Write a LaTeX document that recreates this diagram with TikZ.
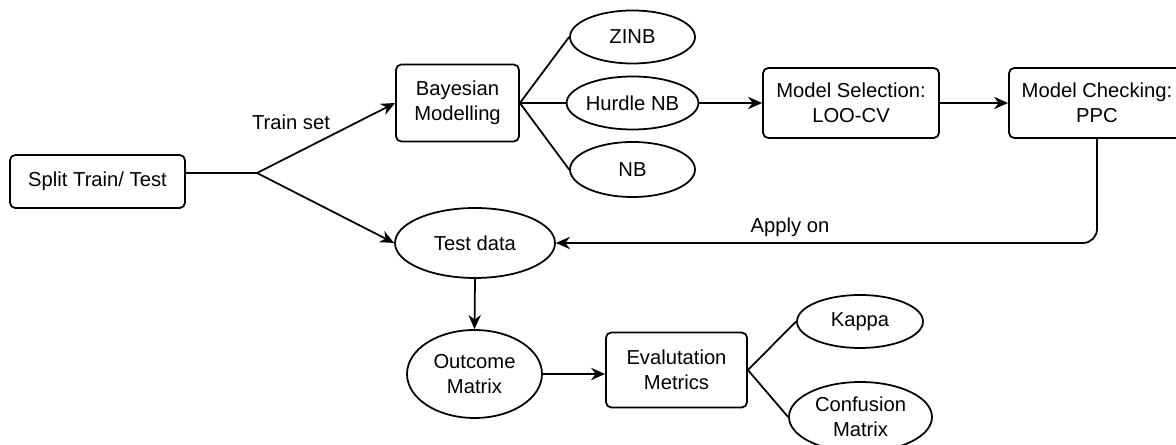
\documentclass[tikz,border=0pt]{standalone}
\usepackage{fontspec}
\setmainfont{Liberation Sans}
\usepackage{tikz}
\usetikzlibrary{arrows.meta}
\usetikzlibrary{positioning}
\usetikzlibrary{shapes.geometric}

\begin{document}
\begin{tikzpicture}[line width=1pt,>={Stealth[length=8pt,width=7pt]},
    every node/.style={font=\fontsize{11.5pt}{14pt}\selectfont, align=center, inner sep=0pt},
    box/.style={draw, rounded corners=3pt},
    oval/.style={draw, ellipse}]
    \useasboundingbox (0,0) rectangle (23.52,8.9);

    \node[box, minimum width=3.5cm, minimum height=1.06cm] (split) at (1.95,5.27) {Split Train/ Test};
    \coordinate (branch) at (5.14,5.44);
    \node[] (trainlbl) at (5.82,6.46) {Train set};

    \node[box, minimum width=2.46cm, minimum height=1.54cm] (bayes) at (9.15,6.84) {Bayesian\\Modelling};
    \node[oval, minimum width=2.5cm, minimum height=1.06cm] (zinb) at (12.65,8.16) {ZINB};
    \node[oval, minimum width=2.5cm, minimum height=1.06cm] (hurdle) at (12.65,6.84) {Hurdle NB};
    \node[oval, minimum width=2.5cm, minimum height=1.1cm] (nb) at (12.65,5.51) {NB};
    \node[box, minimum width=3.52cm, minimum height=1.4cm] (modsel) at (17.02,6.84) {Model Selection:\\LOO-CV};
    \node[box, minimum width=3.52cm, minimum height=1.4cm] (modchk) at (21.94,6.84) {Model Checking:\\PPC};

    \node[oval, minimum width=3.2cm, minimum height=1.4cm] (test) at (9.5,4.04) {Test data};
    \node[] (applylbl) at (15.8,4.36) {Apply on};
    \node[oval, minimum width=2.7cm, minimum height=1.76cm] (outcome) at (9.49,1.42) {Outcome\\Matrix};
    \node[box, minimum width=2.82cm, minimum height=1.5cm] (eval) at (13.53,1.5) {Evalutation\\Metrics};
    \node[oval, minimum width=2.52cm, minimum height=1.06cm] (kappa) at (17.2,2.47) {Kappa};
    \node[oval, minimum width=2.86cm, minimum height=1.4cm] (confusion) at (17.21,0.56) {Confusion\\Matrix};

    \draw (split.east |- branch) -- (branch);
    \draw[->] (branch) -- (bayes.west);
    \draw[->] (branch) -- (test.west);
    \draw (bayes.east) -- (zinb.west);
    \draw (bayes.east) -- (hurdle.west);
    \draw (bayes.east) -- (nb.west);
    \draw[->] (hurdle.east) -- (modsel.west);
    \draw[->] (modsel.east) -- (modchk.west);
    \draw[->, rounded corners=8pt] (modchk.south) |- (test.east);
    \draw[->] (test.south) -- (outcome.north);
    \draw[->] (outcome.east) -- (outcome.east -| eval.west);
    \draw (eval.east) -- (kappa.west);
    \draw (eval.east) -- (confusion.west);
  \end{tikzpicture}
\end{document}
